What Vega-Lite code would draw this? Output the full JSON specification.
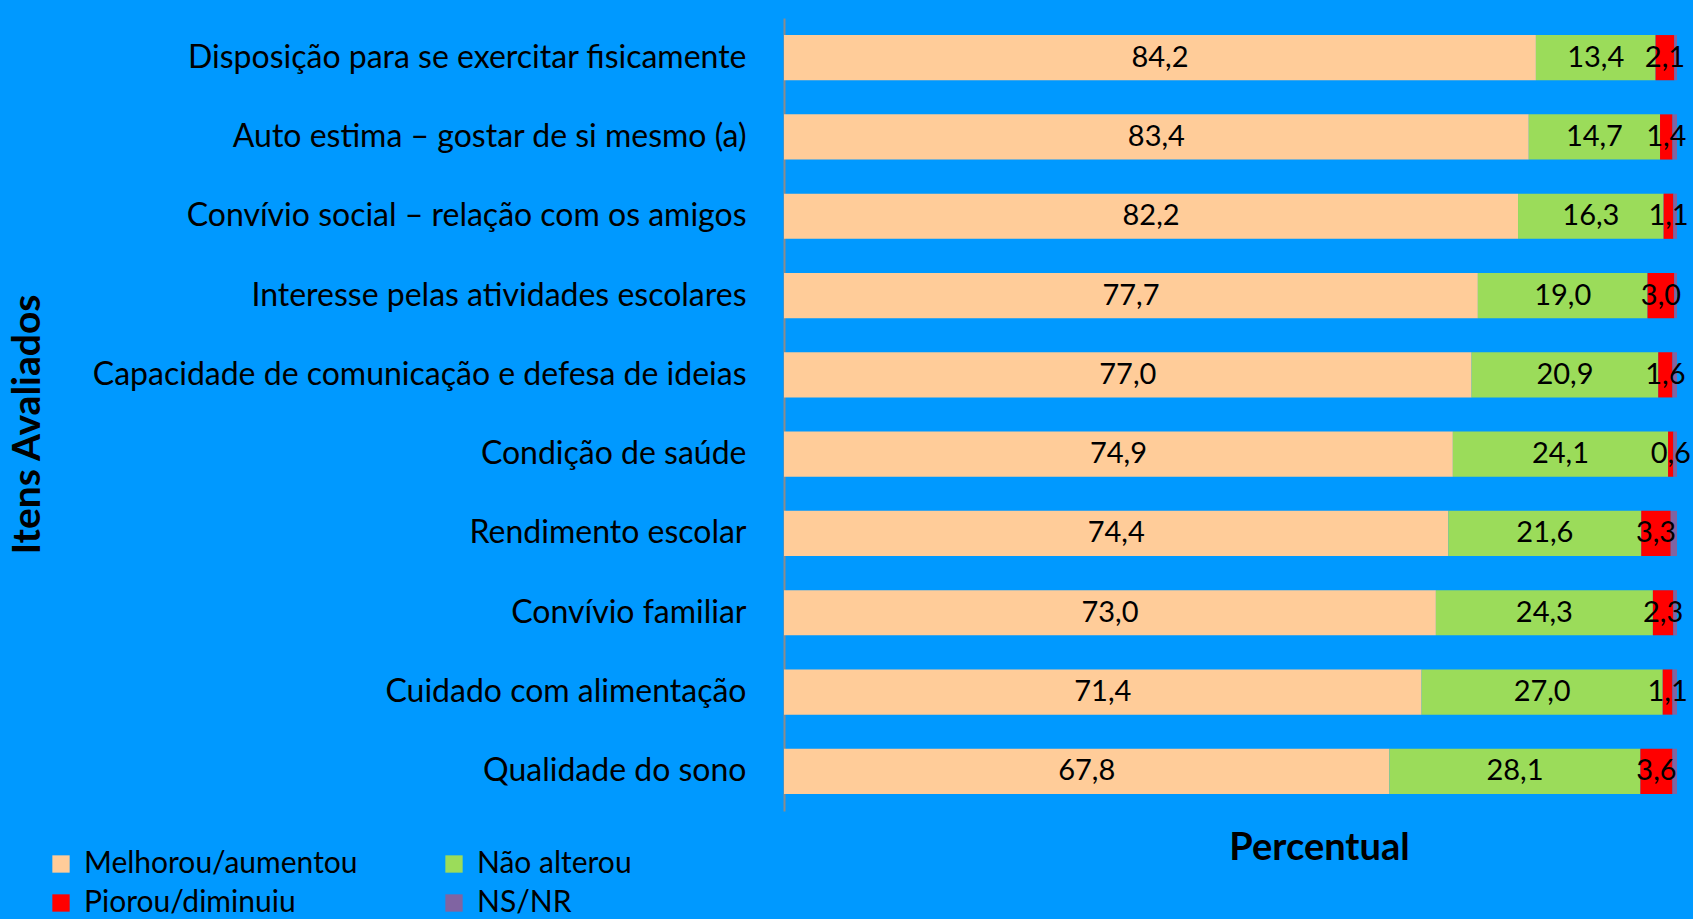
{
  "$schema": "https://vega.github.io/schema/vega-lite/v6.json",
  "width": 893,
  "height": 793,
  "autosize": {"type": "none"},
  "padding": {"left": 784, "top": 18, "right": 16, "bottom": 108},
  "background": "#0099FF",
  "config": {
    "view": {"stroke": null},
    "font": "Lato",
    "locale": {"number": {"decimal": ",", "thousands": ".", "grouping": [3], "currency": ["", ""]}}
  },
  "data": {
    "values": [
      {"item": "Disposição para se exercitar fisicamente", "cat": "Melhorou/aumentou", "o": 1, "v": 84.2},
      {"item": "Disposição para se exercitar fisicamente", "cat": "Não alterou", "o": 2, "v": 13.4},
      {"item": "Disposição para se exercitar fisicamente", "cat": "Piorou/diminuiu", "o": 3, "v": 2.1},
      {"item": "Disposição para se exercitar fisicamente", "cat": "NS/NR", "o": 4, "v": 0.3},
      {"item": "Auto estima – gostar de si mesmo (a)", "cat": "Melhorou/aumentou", "o": 1, "v": 83.4},
      {"item": "Auto estima – gostar de si mesmo (a)", "cat": "Não alterou", "o": 2, "v": 14.7},
      {"item": "Auto estima – gostar de si mesmo (a)", "cat": "Piorou/diminuiu", "o": 3, "v": 1.4},
      {"item": "Auto estima – gostar de si mesmo (a)", "cat": "NS/NR", "o": 4, "v": 0.5},
      {"item": "Convívio social – relação com os amigos ", "cat": "Melhorou/aumentou", "o": 1, "v": 82.2},
      {"item": "Convívio social – relação com os amigos ", "cat": "Não alterou", "o": 2, "v": 16.3},
      {"item": "Convívio social – relação com os amigos ", "cat": "Piorou/diminuiu", "o": 3, "v": 1.1},
      {"item": "Convívio social – relação com os amigos ", "cat": "NS/NR", "o": 4, "v": 0.4},
      {"item": "Interesse pelas atividades escolares ", "cat": "Melhorou/aumentou", "o": 1, "v": 77.7},
      {"item": "Interesse pelas atividades escolares ", "cat": "Não alterou", "o": 2, "v": 19.0},
      {"item": "Interesse pelas atividades escolares ", "cat": "Piorou/diminuiu", "o": 3, "v": 3.0},
      {"item": "Interesse pelas atividades escolares ", "cat": "NS/NR", "o": 4, "v": 0.3},
      {"item": "Capacidade de comunicação e defesa de ideias", "cat": "Melhorou/aumentou", "o": 1, "v": 77.0},
      {"item": "Capacidade de comunicação e defesa de ideias", "cat": "Não alterou", "o": 2, "v": 20.9},
      {"item": "Capacidade de comunicação e defesa de ideias", "cat": "Piorou/diminuiu", "o": 3, "v": 1.6},
      {"item": "Capacidade de comunicação e defesa de ideias", "cat": "NS/NR", "o": 4, "v": 0.5},
      {"item": "Condição de saúde ", "cat": "Melhorou/aumentou", "o": 1, "v": 74.9},
      {"item": "Condição de saúde ", "cat": "Não alterou", "o": 2, "v": 24.1},
      {"item": "Condição de saúde ", "cat": "Piorou/diminuiu", "o": 3, "v": 0.6},
      {"item": "Condição de saúde ", "cat": "NS/NR", "o": 4, "v": 0.4},
      {"item": "Rendimento escolar ", "cat": "Melhorou/aumentou", "o": 1, "v": 74.4},
      {"item": "Rendimento escolar ", "cat": "Não alterou", "o": 2, "v": 21.6},
      {"item": "Rendimento escolar ", "cat": "Piorou/diminuiu", "o": 3, "v": 3.3},
      {"item": "Rendimento escolar ", "cat": "NS/NR", "o": 4, "v": 0.7},
      {"item": "Convívio familiar ", "cat": "Melhorou/aumentou", "o": 1, "v": 73.0},
      {"item": "Convívio familiar ", "cat": "Não alterou", "o": 2, "v": 24.3},
      {"item": "Convívio familiar ", "cat": "Piorou/diminuiu", "o": 3, "v": 2.3},
      {"item": "Convívio familiar ", "cat": "NS/NR", "o": 4, "v": 0.4},
      {"item": "Cuidado com alimentação", "cat": "Melhorou/aumentou", "o": 1, "v": 71.4},
      {"item": "Cuidado com alimentação", "cat": "Não alterou", "o": 2, "v": 27.0},
      {"item": "Cuidado com alimentação", "cat": "Piorou/diminuiu", "o": 3, "v": 1.1},
      {"item": "Cuidado com alimentação", "cat": "NS/NR", "o": 4, "v": 0.5},
      {"item": "Qualidade do sono", "cat": "Melhorou/aumentou", "o": 1, "v": 67.8},
      {"item": "Qualidade do sono", "cat": "Não alterou", "o": 2, "v": 28.1},
      {"item": "Qualidade do sono", "cat": "Piorou/diminuiu", "o": 3, "v": 3.6},
      {"item": "Qualidade do sono", "cat": "NS/NR", "o": 4, "v": 0.5}
    ]
  },
  "transform": [
    {"stack": "v", "groupby": ["item"], "sort": [{"field": "o"}], "as": ["s0", "s1"]},
    {"calculate": "(datum.s0 + datum.s1) / 2", "as": "mid"}
  ],
  "encoding": {
    "y": {
      "field": "item", "type": "nominal", "sort": null,
      "scale": {"paddingInner": 0.43, "paddingOuter": 0.215},
      "axis": {
        "title": "Itens Avaliados", "titleFontSize": 39, "titleFontWeight": "bold", "titleColor": "black",
        "titleX": -757, "titleY": 406, "titleAngle": -90, "titleBaseline": "middle", "titleAlign": "center",
        "labelFontSize": 32, "labelColor": "black", "labelPadding": 38, "labelLimit": 900,
        "ticks": false, "domain": true, "domainColor": "#8c8c8c", "domainWidth": 2
      }
    }
  },
  "layer": [
    {
      "mark": {"type": "bar"},
      "encoding": {
        "x": {
          "field": "s0", "type": "quantitative",
          "scale": {"domain": [0, 100], "nice": false},
          "axis": {
            "title": "Percentual", "titleFontSize": 38, "titleFontWeight": "bold", "titleColor": "black",
            "titleX": 535, "titleY": 37, "titleBaseline": "middle",
            "labels": false, "ticks": false, "domain": false, "grid": false
          }
        },
        "x2": {"field": "s1"},
        "color": {
          "field": "cat", "type": "nominal",
          "scale": {
            "domain": ["Melhorou/aumentou", "Não alterou", "Piorou/diminuiu", "NS/NR"],
            "range": ["#FFCC99", "#9BDC5A", "#FF0000", "#8064A2"]
          },
          "legend": {
            "title": null, "orient": "none", "direction": "horizontal", "columns": 2,
            "legendX": -738, "legendY": 831,
            "symbolType": "square", "symbolSize": 300, "symbolStrokeWidth": 0,
            "labelFontSize": 30, "labelColor": "black", "labelLimit": 500, "labelOffset": 8,
            "columnPadding": 81, "rowPadding": 9
          }
        }
      }
    },
    {
      "transform": [{"filter": "datum.cat != 'NS/NR'"}],
      "mark": {"type": "text", "fontSize": 29, "color": "black", "baseline": "middle", "align": "center"},
      "encoding": {
        "x": {"field": "mid", "type": "quantitative"},
        "text": {"field": "v", "type": "quantitative", "format": ".1f"}
      }
    }
  ]
}
